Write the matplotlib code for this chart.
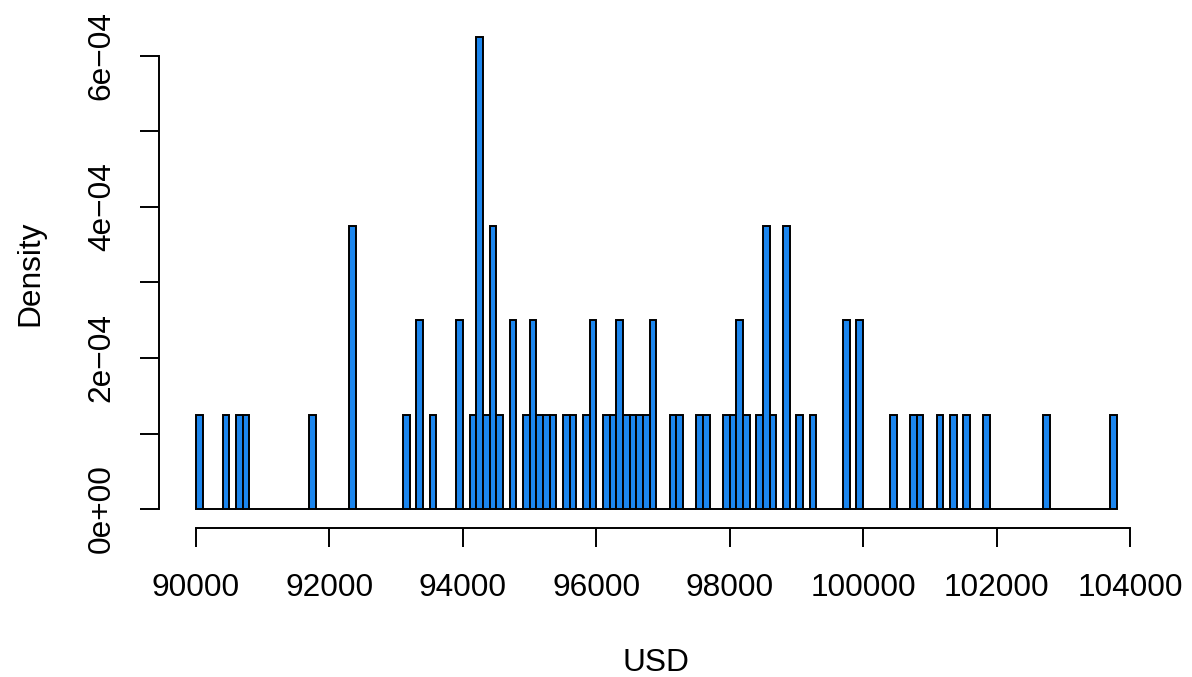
import numpy as np
import matplotlib
matplotlib.use("Agg")
import matplotlib.pyplot as plt

# histogram of prices, bins of 100 USD from 90000 to 103800
bin_start = 90000
bin_width = 100
n_bins = 138
# left edge of every bin that has observations, and how many
occupied = [90000, 90400, 90600, 90700, 91700, 92300, 93100, 93300, 93500,
            93900, 94100, 94200, 94300, 94400, 94500, 94700, 94900, 95000,
            95100, 95200, 95300, 95500, 95600, 95800, 95900, 96100, 96200,
            96300, 96400, 96500, 96600, 96700, 96800, 97100, 97200, 97500,
            97600, 97900, 98000, 98100, 98200, 98400, 98500, 98600, 98800,
            99000, 99200, 99700, 99900, 100400, 100700, 100800, 101100,
            101300, 101500, 101800, 102700, 103700]
counts = [1, 1, 1, 1, 1, 3, 1, 2, 1,
          2, 1, 5, 1, 3, 1, 2, 1, 2,
          1, 1, 1, 1, 1, 1, 2, 1, 1,
          2, 1, 1, 1, 1, 2, 1, 1, 1,
          1, 1, 1, 2, 1, 1, 3, 1, 3,
          1, 1, 2, 2, 1, 1, 1, 1,
          1, 1, 1, 1, 1]

x_ticks = np.arange(90000, 104001, 2000)
y_ticks = np.arange(0, 7) * 1e-4
y_labels = ["0e+00", "", "2e\u221204", "", "4e\u221204", "", "6e\u221204"]

# full count vector, empty bins included (R draws them as flat boxes)
edges = bin_start + bin_width * np.arange(n_bins + 1)
full = np.zeros(n_bins)
for left, c in zip(occupied, counts):
    full[(left - bin_start) // bin_width] = c
density = full / (full.sum() * bin_width)

plt.rcParams['font.family'] = ['Liberation Sans', 'DejaVu Sans']
fig = plt.figure(figsize=(11.92, 6.77), dpi=100)
W, H = 1192, 677
left, right, top, bottom = 159.2, 1153.5, 18.2, 527.9
ax = fig.add_axes([left / W, 1 - bottom / H, (right - left) / W, (bottom - top) / H])

ax.bar(edges[:-1], density, width=bin_width, align='edge',
       color='#1C86EE', edgecolor='black', linewidth=1.4)

rng = edges[-1] - edges[0]
ax.set_xlim(edges[0] - 0.04 * rng, edges[-1] + 0.04 * rng)
ymax = density.max()
ax.set_ylim(-0.04 * ymax, 1.04 * ymax)

for s in ['top', 'right']:
    ax.spines[s].set_visible(False)
ax.spines['left'].set_bounds(y_ticks[0], y_ticks[-1])
ax.spines['bottom'].set_bounds(x_ticks[0], x_ticks[-1])
for s in ['left', 'bottom']:
    ax.spines[s].set_linewidth(1.4)

ax.set_xticks(x_ticks)
ax.set_xticklabels([str(v) for v in x_ticks])
ax.set_yticks(y_ticks)
ax.set_yticklabels(y_labels, rotation=90, va='center')
ax.tick_params(length=13.5, width=1.4, labelsize=22.8)
ax.tick_params(axis='x', pad=19)
ax.tick_params(axis='y', pad=17)

fig.text((left + right) / 2 / W, 1 - 663 / H, "USD", ha='center', va='center', fontsize=22.8)
fig.text(30 / W, 1 - (top + bottom) / 2 / H, "Density", ha='center', va='center',
         rotation=90, fontsize=22.8)

fig.savefig("out.png", dpi=100)
